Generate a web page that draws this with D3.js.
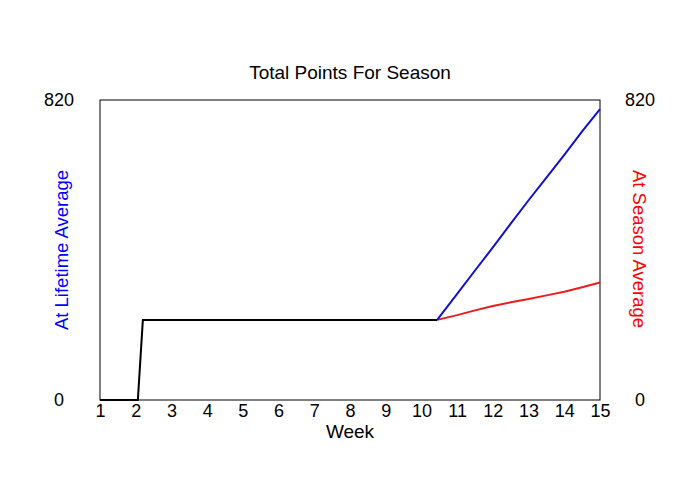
<!DOCTYPE html>
<html>
<head>
<meta charset="utf-8">
<script src="https://cdn.jsdelivr.net/npm/d3@7"></script>
<style>
  body { margin: 0; background: #fff; }
  svg { display: block; font-family: Arial, "Liberation Sans", sans-serif; }
</style>
</head>
<body>
<svg id="chart" width="700" height="500"></svg>
<script>
const weekTicks = [1,2,3,4,5,6,7,8,9,10,11,12,13,14,15];
const yTickValues = [0, 820];

const blackWeeks = [1, 2.06, 2.2, 10.44];
const blackValues = [0, 0, 219, 219];

const blueWeeks = [10.44, 11, 11.5, 12, 12.5, 13, 13.5, 14, 14.5, 15];
const blueValues = [219, 290, 354, 417, 482, 546, 608, 670, 734, 795];

const redWeeks = [10.44, 11, 11.5, 12, 12.5, 13, 13.5, 14, 14.5, 15];
const redValues = [219, 232, 245, 257, 267, 276, 286, 296, 308, 321];

const title = "Total Points For Season";
const xLabel = "Week";
const leftLabel = "At Lifetime Average";
const rightLabel = "At Season Average";

const FONT = "Arial, 'Liberation Sans', sans-serif";
const svg = d3.select("#chart");
const L = 100, R = 600, T = 100, B = 400;

const x = d3.scaleLinear().domain([1, 15]).range([L, R]);
const y = d3.scaleLinear().domain([0, 820]).range([B, T]);

svg.append("rect").attr("width", 700).attr("height", 500).attr("fill", "#fff");

// plot box
svg.append("rect").attr("x", L).attr("y", T).attr("width", R - L).attr("height", B - T)
  .attr("fill", "none").attr("stroke", "#000").attr("stroke-width", 1);

// title
svg.append("text").attr("x", 350).attr("y", 79).attr("text-anchor", "middle")
  .attr("font-size", 19).attr("fill", "#000").text(title);

// x axis labels
const xAxis = d3.axisBottom(x).tickValues(weekTicks).tickSize(0).tickPadding(4).tickFormat(d3.format("d"));
const gx = svg.append("g").attr("transform", `translate(0,${B})`).call(xAxis);
gx.select(".domain").remove();
gx.selectAll("text").attr("font-size", 18).attr("font-family", FONT).attr("fill", "#000");

svg.append("text").attr("x", 350).attr("y", 438).attr("text-anchor", "middle")
  .attr("font-size", 19).attr("fill", "#000").text(xLabel);

// y labels (left & right)
const yl = d3.axisLeft(y).tickValues(yTickValues).tickSize(0).tickPadding(0).tickFormat(d3.format("d"));
const gyl = svg.append("g").attr("transform", `translate(${L},0)`).call(yl);
gyl.select(".domain").remove();
gyl.selectAll("text").attr("font-size", 18).attr("font-family", FONT).attr("fill", "#000")
  .attr("text-anchor", "middle").attr("x", -41).attr("dy", "0.33em");

const yr = d3.axisRight(y).tickValues(yTickValues).tickSize(0).tickPadding(0).tickFormat(d3.format("d"));
const gyr = svg.append("g").attr("transform", `translate(${R},0)`).call(yr);
gyr.select(".domain").remove();
gyr.selectAll("text").attr("font-size", 18).attr("font-family", FONT).attr("fill", "#000")
  .attr("text-anchor", "middle").attr("x", 40).attr("dy", "0.33em");

// axis titles
svg.append("text").attr("transform", "translate(68,250) rotate(-90)").attr("text-anchor", "middle")
  .attr("font-size", 18.5).attr("fill", "#0000ff").text(leftLabel);
svg.append("text").attr("transform", "translate(633,249) rotate(90)").attr("text-anchor", "middle")
  .attr("font-size", 18.5).attr("fill", "#ff0000").text(rightLabel);

const line = d3.line().x(d => x(d[0])).y(d => y(d[1]));

svg.append("path").datum(d3.zip(redWeeks, redValues)).attr("d", line)
  .attr("fill", "none").attr("stroke", "#ee1c1c").attr("stroke-width", 2);
svg.append("path").datum(d3.zip(blueWeeks, blueValues)).attr("d", line)
  .attr("fill", "none").attr("stroke", "#1010d0").attr("stroke-width", 2);
svg.append("path").datum(d3.zip(blackWeeks, blackValues)).attr("d", line)
  .attr("fill", "none").attr("stroke", "#000").attr("stroke-width", 2);
</script>
</body>
</html>
